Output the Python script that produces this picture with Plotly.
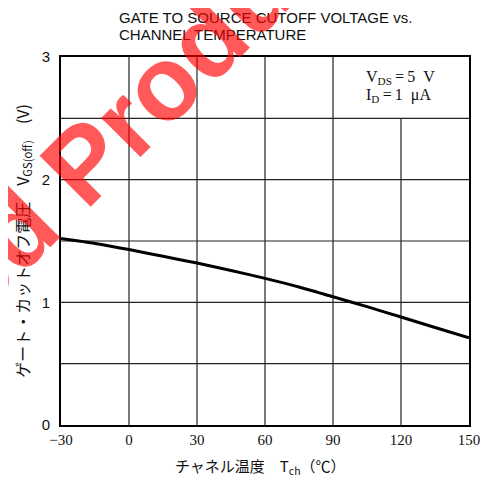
import plotly.graph_objects as go

# data
temp_c = [-30, -15, 0, 15, 30, 45, 60, 75, 90, 105, 120, 135, 150]
vgs_off = [1.52, 1.48, 1.43, 1.375, 1.32, 1.26, 1.195, 1.125, 1.045, 0.965, 0.88, 0.795, 0.71]

x_ticks = [-30, 0, 30, 60, 90, 120, 150]
x_labels = ["\u221230", "0", "30", "60", "90", "120", "150"]
y_ticks = [0, 1, 2, 3]
y_grid = [0.5, 1, 1.5, 2, 2.5]

title_lines = ["GATE TO SOURCE CUTOFF VOLTAGE vs.", "CHANNEL TEMPERATURE"]
cond_lines = ["V<sub>DS</sub>\u2009=\u20095\u00a0\u00a0V", "I<sub>D</sub>\u2009=\u20091\u00a0\u00a0\u03bcA"]

SERIF = "Liberation Serif, Times New Roman, serif"
SANS = "Liberation Sans, Arial, sans-serif"

fig = go.Figure()
fig.add_trace(go.Scatter(
    x=temp_c, y=vgs_off, mode="lines",
    line=dict(color="black", width=3, shape="spline", smoothing=0.6),
    hoverinfo="skip", showlegend=False,
))

# grid: the top-right cell holds the test conditions, so the 120 line stops at 2.5
shapes = []
for xv in x_ticks[1:-1]:
    top = 2.5 if xv == 120 else 3
    shapes.append(dict(type="line", xref="x", yref="y", x0=xv, x1=xv, y0=0, y1=top,
                       line=dict(color="#222", width=1.2), layer="below"))
for yv in y_grid:
    shapes.append(dict(type="line", xref="x", yref="y", x0=-30, x1=150, y0=yv, y1=yv,
                       line=dict(color="#222", width=1.2), layer="below"))

annotations = []
for i, t in enumerate(title_lines):
    annotations.append(dict(text=t, xref="paper", yref="paper", x=0.137, y=1.106 - i * 0.0435,
                            xanchor="left", yanchor="middle", showarrow=False,
                            font=dict(family=SANS, size=15, color="#111")))
for i, t in enumerate(cond_lines):
    annotations.append(dict(text=t, xref="paper", yref="paper", x=0.742, y=0.945 - i * 0.05,
                            xanchor="left", yanchor="middle", showarrow=False,
                            font=dict(family=SERIF, size=16, color="#111")))

annotations.append(dict(
    text="\u30c1\u30e3\u30cd\u30eb\u6e29\u5ea6\u3000T<sub>ch</sub>\uff08\u2103\uff09",
    xref="paper", yref="paper", x=0.49, y=-0.112, xanchor="center", yanchor="middle",
    showarrow=False, font=dict(family="Noto Sans CJK JP", size=15, color="#111")))
annotations.append(dict(
    text="\u30b2\u30fc\u30c8\u30fb\u30ab\u30c3\u30c8\u30aa\u30d5\u96fb\u5727\u3000V<sub>GS(off)</sub>\u3000(V)",
    xref="paper", yref="paper", x=-0.096, y=0.5, xanchor="center", yanchor="middle",
    textangle=-90, showarrow=False,
    font=dict(family="Noto Sans CJK JP", size=16, color="#111")))

# red watermark across the upper left
annotations.append(dict(
    text="Discontinued Product", xref="paper", yref="paper", x=-0.262, y=0.364,
    xanchor="center", yanchor="middle", textangle=-45, showarrow=False,
    font=dict(family=SANS, size=105, weight="bold", color="rgba(255,0,0,0.65)")))

# the page body adds an 8px margin, so the figure is 8px smaller than the window
fig.update_layout(
    width=480, height=474,
    margin=dict(l=53, r=19, t=49, b=57),
    paper_bgcolor="white", plot_bgcolor="white",
    shapes=shapes, annotations=annotations,
    xaxis=dict(range=[-30, 150], tickvals=x_ticks, ticktext=x_labels, showgrid=False,
               zeroline=False, showline=True, mirror=True, linecolor="black", linewidth=1.6,
               ticks="", automargin=False, tickfont=dict(family=SERIF, size=15, color="#111")),
    yaxis=dict(range=[0, 3], tickvals=y_ticks, showgrid=False, zeroline=False,
               showline=True, mirror=True, linecolor="black", linewidth=1.6, automargin=False,
               ticks="", ticklabelstandoff=6, tickfont=dict(family=SANS, size=15, color="#111")),
)

fig.write_html("out.html")
